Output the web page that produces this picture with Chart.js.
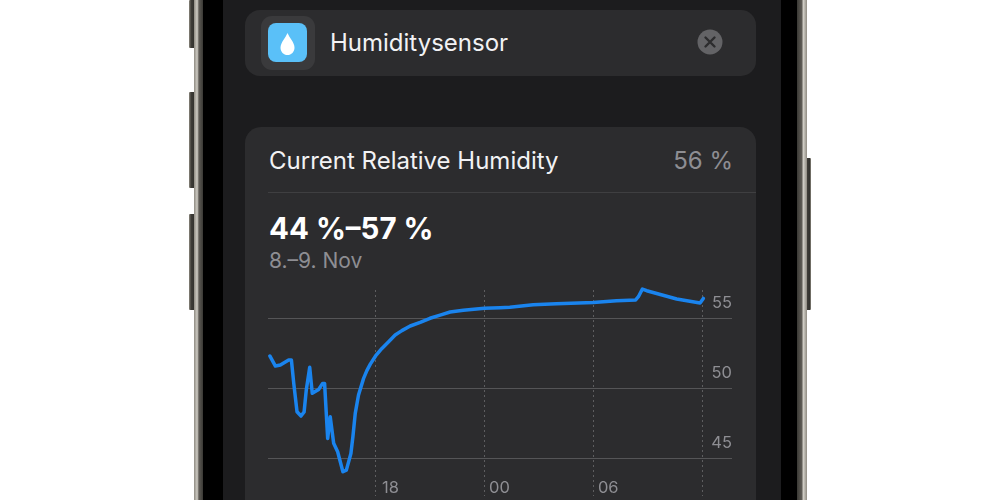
<!DOCTYPE html>
<html><head><meta charset="utf-8">
<script src="https://cdn.jsdelivr.net/npm/chart.js@4"></script>
<style>
html,body{margin:0;padding:0;background:#fff;overflow:hidden}
#stage{position:relative;width:1000px;height:500px;overflow:hidden;font-family:Inter,Roboto,sans-serif;background:#fff}
#stage div,#stage svg{position:absolute}
.metal{background:linear-gradient(90deg,#8d897f,#3e3c37 30%,#34332f 70%,#8d897f);border-radius:1px}
.t{white-space:nowrap;line-height:1}
canvas{position:absolute;left:0;top:0}
</style></head><body>
<div id="stage">
<div class="metal" style="left:189px;top:0;width:7px;height:48px"></div>
<div class="metal" style="left:189px;top:92px;width:7px;height:96px"></div>
<div class="metal" style="left:189px;top:214px;width:7px;height:96px"></div>
<div class="metal" style="left:806px;top:158px;width:5px;height:152px"></div>
<div style="left:194px;top:0;width:613px;height:500px;background:linear-gradient(90deg,#8f8b82,#cfccc4 35%,#5d5a54 55%,#3a3935 100%) left/9px 100% no-repeat,linear-gradient(90deg,#3a3935,#5d5a54 45%,#cfccc4 65%,#8f8b82 100%) right/10px 100% no-repeat"></div>
<div style="left:203px;top:0;width:594px;height:500px;background:#000"></div>
<div style="left:223px;top:0;width:558px;height:500px;background:#1c1c1e"></div>

<div style="left:245px;top:10px;width:511px;height:66px;background:#2c2c2e;border-radius:15px"></div>
<div style="left:261px;top:16px;width:54px;height:54px;background:#3a3a3c;border-radius:11px"></div>
<div style="left:268px;top:23px;width:39px;height:39px;background:#5ac0f8;border-radius:8px"></div>
<svg style="left:279px;top:32px" width="17" height="24" viewBox="0 0 17 24"><path d="M8.5 1C6.5 6 1.5 10.500 1.500 15.700C1.500 19.800 4.600 23 8.500 23C12.400 23 15.500 19.800 15.500 15.700C15.500 10.500 10.500 6 8.500 1Z" fill="#fff"/></svg>
<div class="t" style="left:330px;top:31px;font-size:24px;color:#f2f2f4">Humiditysensor</div>
<svg style="left:697px;top:29px" width="26" height="26" viewBox="0 0 26 26"><circle cx="13" cy="13" r="12.500" fill="#636366"/><path d="M8.500 8.500L17.500 17.500M17.500 8.500L8.500 17.500" stroke="#2c2c2e" stroke-width="2.400" stroke-linecap="round"/></svg>

<div style="left:245px;top:127px;width:511px;height:400px;background:#2c2c2e;border-radius:16px"></div>
<div class="t" style="left:269px;top:149px;font-size:24px;color:#f2f2f4">Current Relative Humidity</div>
<div class="t" style="right:267px;top:149px;font-size:24px;color:#8e8e93">56 %</div>
<div style="left:268px;top:192px;width:488px;height:1px;background:#3f3f41"></div>
<div class="t" style="left:269px;top:214px;font-size:29.500px;font-weight:700;color:#fff">44 %–57 %</div>
<div class="t" style="left:269px;top:250px;font-size:21px;color:#8e8e93">8.–9. Nov</div>
<canvas id="c" width="1000" height="500"></canvas>
</div>
<script>
const hours=[12.17,12.48,12.75,13.21,13.36,13.49,13.67,13.89,14.06,14.18,14.37,14.51,14.86,15.08,15.19,15.36,15.5,15.69,15.91,16.2,16.39,16.64,16.75,16.88,17.06,17.34,17.52,17.71,18,18.35,18.72,19.08,19.45,19.91,20.46,21,21.56,22.11,22.84,24,24.86,25.4,26.69,27.97,30,31.29,32.34,32.49,32.71,32.95,34.6,35.89,36.07];
const humidity=[52.29,51.57,51.64,52,52,50.33,48.31,48,48.29,49.86,51.48,49.62,49.9,50.33,50.33,46.4,47.95,46.05,45.45,44.02,44.14,45.33,46.52,48.19,49.5,50.69,51.24,51.71,52.29,52.83,53.31,53.79,54.1,54.43,54.69,54.98,55.21,55.43,55.55,55.69,55.73,55.77,55.95,56.02,56.1,56.24,56.29,56.52,57.07,56.95,56.36,56.07,56.4];
const xTicks=[18,24,30,36];
const xLabels=['18','00','06',''];
const yTicks=[45,50,55];
const noPad=s=>{s.paddingTop=0;s.paddingBottom=0;s.paddingLeft=0;s.paddingRight=0};
new Chart(document.getElementById('c'),{
  type:'line',
  data:{datasets:[{data:hours.map((h,i)=>({x:h,y:humidity[i]})),borderColor:'#1a84ee',borderWidth:3.5,pointRadius:0,tension:0,fill:false,clip:false,borderJoinStyle:'round',borderCapStyle:'round'}]},
  options:{
    responsive:false,animation:false,
    layout:{padding:{left:268,right:268,top:290,bottom:0}},
    plugins:{legend:{display:false},tooltip:{enabled:false}},
    scales:{
      x:{type:'linear',min:12.07,max:37.65,
        afterBuildTicks:s=>{s.ticks=xTicks.map(v=>({value:v}))},
        afterFit:s=>{s.height=4;noPad(s)},
        grid:{color:'#5e5e60',lineWidth:1,tickLength:0,drawTicks:false},
        border:{display:false,dash:[2,3]},
        ticks:{autoSkip:false,maxRotation:0,mirror:true,padding:-2,labelOffset:15,color:'#8e8e93',font:{family:'Inter, Roboto, sans-serif',size:16.5},
          callback:v=>xLabels[xTicks.indexOf(v)]}
      },
      y:{type:'linear',position:'right',min:42.29,max:57,
        afterBuildTicks:s=>{s.ticks=yTicks.map(v=>({value:v}))},
        afterFit:s=>{s.width=0;noPad(s)},
        grid:{color:'#555557',lineWidth:1,drawTicks:false,tickLength:0},
        border:{display:false},
        ticks:{mirror:true,padding:0,labelOffset:-15,color:'#8e8e93',font:{family:'Inter, Roboto, sans-serif',size:16.5},callback:v=>String(v)}
      }
    }
  }
});
</script>
</body></html>
